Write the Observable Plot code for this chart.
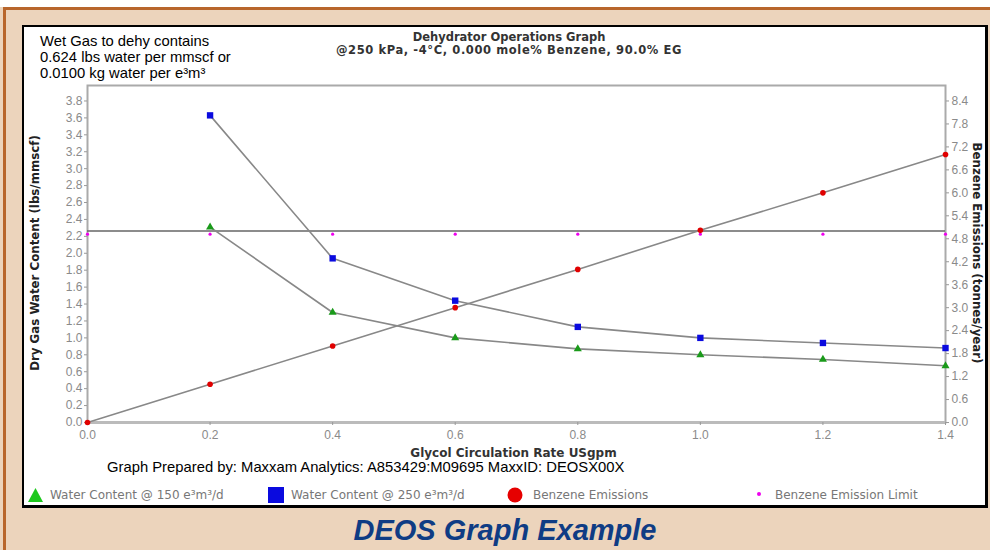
<!DOCTYPE html>
<html>
<head>
<meta charset="utf-8">
<script src="https://cdn.jsdelivr.net/npm/d3@7"></script>
<script src="https://cdn.jsdelivr.net/npm/@observablehq/plot@0.6"></script>
<style>
  html, body { margin:0; padding:0; }
  body { width:990px; height:550px; background:#ecd4bc; font-family:"Liberation Sans", Arial, sans-serif; overflow:hidden; }
  #wrap { position:relative; width:990px; height:550px; }
  .abs { position:absolute; white-space:nowrap; }
  .dv { font-family:"DejaVu Sans", Verdana, sans-serif; }
  #topwhite { left:0; top:0; width:990px; height:7px; background:#fff; }
  #topline { left:3px; top:7px; width:987px; height:3px; background:#b8662c; }
  #leftline { left:3px; top:7px; width:3px; height:543px; background:#b8662c; }
  #panel { left:22px; top:25px; width:961px; height:478px; background:#fff; border:2px solid #000; border-right-width:3px; border-bottom-width:3px; }
  #chart { left:0; top:0; }
  #note { left:40px; top:33px; font-size:14.8px; line-height:16px; color:#000; }
  #title { left:0; width:1018px; top:31px; text-align:center; font-size:11.5px; font-weight:bold; color:#333; line-height:13px; }
  #title span { letter-spacing:0.6px; }
  #ylabL { left:35px; top:253px; transform:translate(-50%,-50%) rotate(-90deg); font-size:11.8px; font-weight:bold; color:#222; }
  #ylabR { left:977px; top:253px; transform:translate(-50%,-50%) rotate(90deg); font-size:11.8px; font-weight:bold; color:#222; }
  #xlab { left:0; width:1027px; top:446px; text-align:center; font-size:12px; font-weight:bold; color:#333; }
  #prep { left:107px; top:459px; font-size:14.8px; color:#000; }
  .leg { top:487px; font-size:12px; color:#777; line-height:16px; display:flex; align-items:center; }
  .leg svg { margin-right:6px; }
  #caption { left:0; width:1010px; top:514px; text-align:center; font-size:29px; font-weight:bold; font-style:italic; color:#0f3c84; }
</style>
</head>
<body>
<div id="wrap">
  <div class="abs" id="topwhite"></div>
  <div class="abs" id="topline"></div>
  <div class="abs" id="leftline"></div>
  <div class="abs" id="panel"></div>
  <div class="abs" id="chart"></div>
  <div class="abs" id="note">Wet Gas to dehy contains<br>0.624 lbs water per mmscf or<br>0.0100 kg water per e³m³</div>
  <div class="abs dv" id="title">Dehydrator Operations Graph<br><span>@250 kPa, -4°C, 0.000 mole% Benzene, 90.0% EG</span></div>
  <div class="abs dv" id="ylabL">Dry Gas Water Content (lbs/mmscf)</div>
  <div class="abs dv" id="ylabR">Benzene Emissions (tonnes/year)</div>
  <div class="abs dv" id="xlab">Glycol Circulation Rate USgpm</div>
  <div class="abs" id="prep">Graph Prepared by: Maxxam Analytics: A853429:M09695 MaxxID: DEOSX00X</div>
  <div class="abs leg dv" style="left:27px"><svg width="17" height="16"><polygon points="8.5,1 16,15 1,15" fill="#1ec81e"/></svg>Water Content @ 150 e³m³/d</div>
  <div class="abs leg dv" style="left:268px"><svg width="17" height="16"><rect x="0" y="0" width="16" height="16" fill="#0a0adf"/></svg>Water Content @ 250 e³m³/d</div>
  <div class="abs leg dv" style="left:507px"><svg width="20" height="16"><circle cx="8" cy="8" r="7.5" fill="#e60000"/></svg>Benzene Emissions</div>
  <div class="abs leg dv" style="left:755px"><svg width="14" height="16"><circle cx="4" cy="7" r="2" fill="#ee00ee"/></svg>Benzene Emission Limit</div>
  <div class="abs" id="caption">DEOS Graph Example</div>
</div>
<script>
// ---- data ----
const rates = [0.0, 0.2, 0.4, 0.6, 0.8, 1.0, 1.2, 1.4];
const waterRates = [0.2, 0.4, 0.6, 0.8, 1.0, 1.2, 1.4];
const water150 = [2.31, 1.30, 1.00, 0.87, 0.80, 0.745, 0.67];
const water250 = [3.63, 1.94, 1.44, 1.13, 1.00, 0.94, 0.88];
const benzene = [0.0, 1.0, 2.0, 3.0, 4.0, 5.02, 6.0, 7.0];
const benzeneLimitPts = [4.92, 4.92, 4.92, 4.92, 4.92, 4.92, 4.92, 4.92];
const benzeneLimitLine = [5.0];
const xTicks = [0.0, 0.2, 0.4, 0.6, 0.8, 1.0, 1.2, 1.4];
const leftTicks = [0.0,0.2,0.4,0.6,0.8,1.0,1.2,1.4,1.6,1.8,2.0,2.2,2.4,2.6,2.8,3.0,3.2,3.4,3.6,3.8];
const rightTicks = [0.0,0.6,1.2,1.8,2.4,3.0,3.6,4.2,4.8,5.4,6.0,6.6,7.2,7.8,8.4];
const leftMax = 3.983;
const k = 3.8 / 8.4; // right-axis units -> left-axis units

const w150 = waterRates.map((x, i) => ({x, y: water150[i]}));
const w250 = waterRates.map((x, i) => ({x, y: water250[i]}));
const benz = rates.map((x, i) => ({x, y: benzene[i] * k}));
const lim = rates.map((x, i) => ({x, y: benzeneLimitPts[i] * k}));

const tickStyle = {fill: "#8a8a8a", fontSize: 12, tickSize: 3, stroke: "#999", label: null};

const chart = Plot.plot({
  width: 990,
  height: 550,
  marginLeft: 87,
  marginRight: 45,
  marginTop: 85,
  marginBottom: 128,
  style: {background: "transparent", fontFamily: "Liberation Sans, Arial, sans-serif"},
  x: {domain: [0, 1.4]},
  y: {domain: [0, leftMax]},
  marks: [
    Plot.frame({stroke: "#aaa", strokeWidth: 2}),
    Plot.ruleY([0], {stroke: "#bbb", strokeWidth: 3}),
    Plot.axisX(xTicks, {...tickStyle, tickFormat: d => d.toFixed(1), tickPadding: 5}),
    Plot.axisY(leftTicks, {...tickStyle, anchor: "left", tickFormat: d => d.toFixed(1), tickPadding: 2}),
    Plot.axisY(rightTicks.map(v => v * k), {...tickStyle, anchor: "right", tickFormat: d => (d / k).toFixed(1), tickPadding: 3}),
    Plot.ruleY(benzeneLimitLine.map(v => v * k), {stroke: "#666", strokeWidth: 1.5}),
    Plot.line(w250, {x: "x", y: "y", stroke: "#888", strokeWidth: 1.6}),
    Plot.line(w150, {x: "x", y: "y", stroke: "#888", strokeWidth: 1.6}),
    Plot.line(benz, {x: "x", y: "y", stroke: "#888", strokeWidth: 1.6}),
    Plot.dot(lim, {x: "x", y: "y", fill: "#ee00ee", r: 1.6}),
    Plot.dot(w250, {x: "x", y: "y", symbol: "square", fill: "#0a0adf", r: 3.6}),
    Plot.dot(w150, {x: "x", y: "y", symbol: "triangle", fill: "#1a9a1a", r: 3}),
    Plot.dot(benz, {x: "x", y: "y", fill: "#e00000", r: 2.8})
  ]
});
document.getElementById("chart").appendChild(chart);
</script>
</body>
</html>
